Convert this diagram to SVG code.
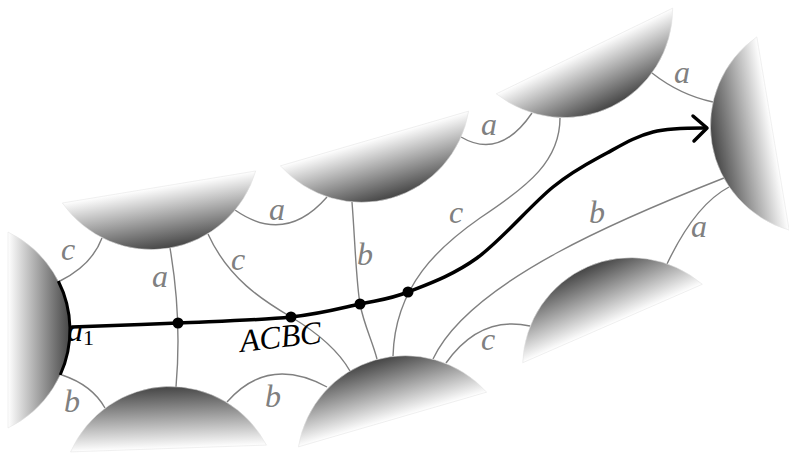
<svg xmlns="http://www.w3.org/2000/svg" width="789" height="453" viewBox="0 0 789 453">
<defs>
<linearGradient id="g" gradientUnits="userSpaceOnUse" x1="0" y1="0" x2="0" y2="62">
<stop offset="0" stop-color="#ffffff"/>
<stop offset="1" stop-color="#454545"/>
</linearGradient>
<path id="seg" d="M-98 0 A108.5 108.5 0 0 0 98 0 Z" fill="url(#g)" stroke="#e2e2e2" stroke-width="0.5"/>
</defs>
<style>
.ln{fill:none;stroke:#808080;stroke-width:1.4}
.lb{font-family:"Liberation Serif",serif;font-style:italic;font-size:32px;fill:#808080;text-anchor:middle}
.main{fill:none;stroke:#000;stroke-width:3.5;stroke-linecap:round;stroke-linejoin:round}
</style>
<rect width="789" height="453" fill="#fff"/>
<text x="67" y="341" font-family="Liberation Serif" font-style="italic" font-size="32" fill="#000">a<tspan font-size="22" font-style="normal" dy="4">1</tspan></text>
<g id="connectors">
<path class="ln" d="M60 281 Q92 265 102 238"/>
<path class="ln" d="M170 248 Q182 318 176 387"/>
<path class="ln" d="M208 234 C228 278 262 300 291 317 C318 333 338 350 350 371"/>
<path class="ln" d="M235 210 Q285 245 327 197"/>
<path class="ln" d="M352 202 C355 240 356 280 360 304 C364 325 372 340 377 359"/>
<path class="ln" d="M461 137 Q500 160 532 113"/>
<path class="ln" d="M560 118 C560 160 530 185 480 218 C440 246 395 285 393 356"/>
<path class="ln" d="M652 73 Q680 95 713 102"/>
<path class="ln" d="M724 178 C630 215 470 280 433 359"/>
<path class="ln" d="M729 187 Q695 205 667 264"/>
<path class="ln" d="M446 363 Q480 315 530 326"/>
<path class="ln" d="M227 402 Q268 355 327 387"/>
<path class="ln" d="M62 375 Q92 385 105 408"/>
</g>
<g id="n1"><use href="#seg" transform="translate(8 330) rotate(-90)"/></g>
<g id="n2"><use href="#seg" transform="translate(159 187) rotate(-9.4)"/></g>
<g id="n3"><use href="#seg" transform="translate(374.5 138.5) rotate(-16.2)"/></g>
<g id="n4"><use href="#seg" transform="translate(584.5 51) rotate(-25.9)"/></g>
<g id="n5"><use href="#seg" transform="translate(773 133.5) rotate(80.5)"/></g>
<g id="n6"><use href="#seg" transform="translate(612.5 323.5) rotate(156.4)"/></g>
<g id="n7"><use href="#seg" transform="translate(392.5 419.5) rotate(163.8)"/></g>
<g id="n8"><use href="#seg" transform="translate(168.5 448.5) rotate(178)"/></g>
<g id="labels">
<text class="lb" x="68" y="260">c</text>
<text class="lb" x="160" y="287">a</text>
<text class="lb" x="238" y="270">c</text>
<text class="lb" x="277" y="220">a</text>
<text class="lb" x="365" y="265">b</text>
<text class="lb" x="456" y="223">c</text>
<text class="lb" x="489" y="135">a</text>
<text class="lb" x="682" y="83">a</text>
<text class="lb" x="597" y="223">b</text>
<text class="lb" x="699" y="237">a</text>
<text class="lb" x="488" y="350">c</text>
<text class="lb" x="273" y="407">b</text>
<text class="lb" x="72" y="412">b</text>
</g>
<g id="path">
<path d="M58.3 281 A108.5 108.5 0 0 1 60.2 375" fill="none" stroke="#000" stroke-width="3"/>
<path class="main" d="M72 327 C89.7 326.3 141.5 324.7 178 323 C214.5 321.3 260.7 320.2 291 317 C321.3 313.8 340.5 308.2 360 304 C379.5 299.8 388.5 299.7 408 292 C427.5 284.3 452.8 275.5 477 258 C501.2 240.5 531.3 204.5 553 187 C574.7 169.5 590.3 162.2 607 153 C623.7 143.8 636.3 136.2 653 132 C669.7 127.8 690 128 706 128"/>
<path class="main" d="M693 116 L707 128 L694 141"/>
<circle cx="178" cy="323" r="5.5"/>
<circle cx="291" cy="317" r="5.5"/>
<circle cx="360" cy="304" r="5.5"/>
<circle cx="408" cy="292" r="5.5"/>
<text x="241" y="352" transform="rotate(-6.5 241 352)" font-family="Liberation Serif" font-style="italic" font-size="32" fill="#000">ACBC</text>
</g>
</svg>
